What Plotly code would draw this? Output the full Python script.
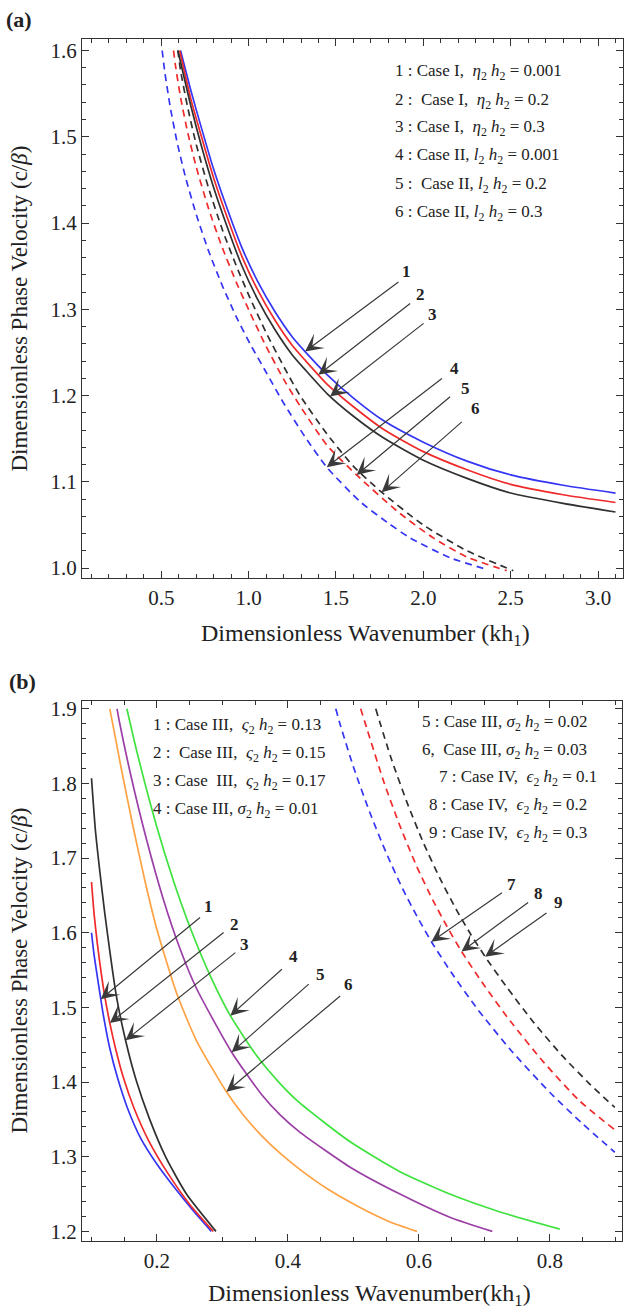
import plotly.graph_objects as go

SERIF = "Liberation Serif, Times New Roman, serif"
W, H = 627, 1311

# ---------------- panel (a): Case I (solid) and Case II (dashed) ----------------
ka_1 = [0.610, 0.67, 0.73, 0.80, 0.88, 0.96, 1.05, 1.15, 1.25, 1.323, 1.45, 1.6, 1.771, 2.0, 2.25, 2.5, 2.8, 3.1]
ca_1 = [1.600, 1.553, 1.510, 1.462, 1.415, 1.372, 1.333, 1.2975, 1.268, 1.251, 1.224, 1.197, 1.171, 1.146, 1.124, 1.108, 1.096, 1.087]

ka_2 = [0.605, 0.67, 0.73, 0.80, 0.88, 0.96, 1.05, 1.15, 1.25, 1.323, 1.45, 1.6, 1.771, 2.0, 2.25, 2.5, 2.8, 3.1]
ca_2 = [1.600, 1.543, 1.500, 1.452, 1.405, 1.362, 1.323, 1.2875, 1.258, 1.241, 1.213, 1.187, 1.161, 1.135, 1.114, 1.097, 1.085, 1.076]

ka_3 = [0.595, 0.67, 0.73, 0.80, 0.88, 0.96, 1.05, 1.15, 1.25, 1.323, 1.45, 1.6, 1.771, 2.0, 2.25, 2.5, 2.8, 3.1]
ca_3 = [1.600, 1.535, 1.489, 1.441, 1.394, 1.351, 1.312, 1.2765, 1.247, 1.230, 1.202, 1.176, 1.151, 1.125, 1.104, 1.087, 1.075, 1.065]

ka_4 = [0.505, 0.52, 0.55, 0.59, 0.64, 0.70, 0.77, 0.85, 0.93, 1.008, 1.10, 1.198, 1.32, 1.447, 1.638, 1.80, 1.924, 2.153, 2.372]
ca_4 = [1.600, 1.575, 1.536, 1.494, 1.452, 1.410, 1.368, 1.327, 1.291, 1.260, 1.227, 1.192, 1.153, 1.117, 1.077, 1.052, 1.035, 1.012, 0.998]

ka_5 = [0.570, 0.58, 0.61, 0.65, 0.70, 0.77, 0.85, 0.93, 1.008, 1.10, 1.20, 1.294, 1.45, 1.618, 1.85, 2.057, 2.248, 2.477]
ca_5 = [1.600, 1.584, 1.546, 1.506, 1.465, 1.417, 1.371, 1.331, 1.296, 1.257, 1.219, 1.188, 1.142, 1.108, 1.066, 1.035, 1.013, 0.997]

ka_6 = [0.595, 0.61, 0.65, 0.70, 0.77, 0.85, 0.93, 1.008, 1.10, 1.20, 1.294, 1.45, 1.60, 1.761, 2.0, 2.25, 2.515]
ca_6 = [1.600, 1.577, 1.535, 1.491, 1.441, 1.392, 1.350, 1.313, 1.273, 1.234, 1.200, 1.155, 1.118, 1.088, 1.050, 1.020, 0.997]

# ---------------- panel (b): Case III (solid) and Case IV (dashed) ----------------
kb_1 = [0.100, 0.104, 0.110, 0.118, 0.128, 0.140, 0.155, 0.175, 0.200, 0.230, 0.255, 0.283]
cb_1 = [1.600, 1.570, 1.535, 1.490, 1.445, 1.405, 1.365, 1.325, 1.290, 1.255, 1.228, 1.200]

kb_2 = [0.100, 0.104, 0.109, 0.115, 0.121, 0.128, 0.137, 0.149, 0.165, 0.187, 0.215, 0.250, 0.286]
cb_2 = [1.668, 1.625, 1.585, 1.545, 1.511, 1.479, 1.444, 1.405, 1.365, 1.322, 1.280, 1.236, 1.200]

kb_3 = [0.100, 0.106, 0.113, 0.120, 0.128, 0.138, 0.152, 0.168, 0.188, 0.213, 0.245, 0.290]
cb_3 = [1.807, 1.737, 1.680, 1.628, 1.575, 1.515, 1.456, 1.403, 1.352, 1.300, 1.250, 1.200]

kb_4 = [0.154, 0.170, 0.200, 0.225, 0.251, 0.281, 0.312, 0.350, 0.388, 0.418, 0.495, 0.571, 0.647, 0.724, 0.815]
cb_4 = [1.900, 1.840, 1.741, 1.670, 1.606, 1.543, 1.489, 1.438, 1.398, 1.372, 1.320, 1.280, 1.250, 1.226, 1.203]

kb_5 = [0.139, 0.143, 0.160, 0.184, 0.210, 0.235, 0.260, 0.314, 0.360, 0.388, 0.418, 0.495, 0.571, 0.647, 0.712]
cb_5 = [1.900, 1.881, 1.811, 1.725, 1.644, 1.579, 1.526, 1.440, 1.383, 1.356, 1.333, 1.286, 1.250, 1.219, 1.200]

kb_6 = [0.128, 0.145, 0.164, 0.182, 0.200, 0.230, 0.260, 0.306, 0.330, 0.360, 0.390, 0.418, 0.460, 0.510, 0.555, 0.597]
cb_6 = [1.900, 1.822, 1.740, 1.668, 1.604, 1.519, 1.456, 1.387, 1.358, 1.328, 1.303, 1.283, 1.257, 1.232, 1.213, 1.200]

kb_7 = [0.473, 0.479, 0.500, 0.525, 0.550, 0.575, 0.597, 0.619, 0.650, 0.690, 0.740, 0.800, 0.850, 0.899]
cb_7 = [1.900, 1.881, 1.822, 1.761, 1.707, 1.659, 1.622, 1.588, 1.546, 1.497, 1.443, 1.386, 1.344, 1.306]

kb_8 = [0.511, 0.521, 0.546, 0.571, 0.596, 0.621, 0.643, 0.665, 0.700, 0.740, 0.790, 0.845, 0.899]
cb_8 = [1.900, 1.872, 1.803, 1.743, 1.690, 1.644, 1.608, 1.575, 1.529, 1.481, 1.427, 1.375, 1.336]

kb_9 = [0.534, 0.557, 0.582, 0.607, 0.632, 0.657, 0.679, 0.701, 0.735, 0.775, 0.820, 0.860, 0.899]
cb_9 = [1.900, 1.835, 1.774, 1.720, 1.673, 1.631, 1.598, 1.568, 1.526, 1.480, 1.434, 1.398, 1.366]

# legend entries
legend_a = [
    "1 : Case I,  <i>η</i><sub>2</sub> <i>h</i><sub>2</sub> = 0.001",
    "2 :  Case I,  <i>η</i><sub>2</sub> <i>h</i><sub>2</sub> = 0.2",
    "3 : Case I,  <i>η</i><sub>2</sub> <i>h</i><sub>2</sub> = 0.3",
    "4 : Case II, <i>l</i><sub>2</sub> <i>h</i><sub>2</sub> = 0.001",
    "5 :  Case II, <i>l</i><sub>2</sub> <i>h</i><sub>2</sub> = 0.2",
    "6 : Case II, <i>l</i><sub>2</sub> <i>h</i><sub>2</sub> = 0.3",
]
legend_b_left = [
    "1 : Case III,  <i>ς</i><sub>2</sub> <i>h</i><sub>2</sub> = 0.13",
    "2 :  Case III,  <i>ς</i><sub>2</sub> <i>h</i><sub>2</sub> = 0.15",
    "3 : Case  III,  <i>ς</i><sub>2</sub> <i>h</i><sub>2</sub> = 0.17",
    "4 : Case III, <i>σ</i><sub>2</sub> <i>h</i><sub>2</sub> = 0.01",
]
legend_b_right = [
    "5 : Case III, <i>σ</i><sub>2</sub> <i>h</i><sub>2</sub> = 0.02",
    "6,  Case III, <i>σ</i><sub>2</sub> <i>h</i><sub>2</sub> = 0.03",
    "7 : Case IV,  <i>ϵ</i><sub>2</sub> <i>h</i><sub>2</sub> = 0.1",
    "8 : Case IV,  <i>ϵ</i><sub>2</sub> <i>h</i><sub>2</sub> = 0.2",
    "9 : Case IV,  <i>ϵ</i><sub>2</sub> <i>h</i><sub>2</sub> = 0.3",
]

BLUE, RED, BLACK = "#3535f4", "#f02a2a", "#303030"
ORANGE, PURPLE, GREEN = "#ffa244", "#9b3fa6", "#3fe23f"

fig = go.Figure()

def curve(x, y, color, dash, xa, ya):
    fig.add_trace(go.Scatter(
        x=x, y=y, mode="lines", xaxis=xa, yaxis=ya, showlegend=False,
        line=dict(color=color, width=1.7, dash=dash, shape="spline", smoothing=0.6),
        hoverinfo="skip"))

solid, dashed = "solid", "7px,5px"
curve(ka_1, ca_1, BLUE, solid, "x", "y")
curve(ka_2, ca_2, RED, solid, "x", "y")
curve(ka_3, ca_3, BLACK, solid, "x", "y")
curve(ka_4, ca_4, BLUE, dashed, "x", "y")
curve(ka_5, ca_5, RED, dashed, "x", "y")
curve(ka_6, ca_6, BLACK, dashed, "x", "y")

curve(kb_1, cb_1, BLUE, solid, "x2", "y2")
curve(kb_2, cb_2, RED, solid, "x2", "y2")
curve(kb_3, cb_3, BLACK, solid, "x2", "y2")
curve(kb_4, cb_4, GREEN, solid, "x2", "y2")
curve(kb_5, cb_5, PURPLE, solid, "x2", "y2")
curve(kb_6, cb_6, ORANGE, solid, "x2", "y2")
curve(kb_7, cb_7, BLUE, dashed, "x2", "y2")
curve(kb_8, cb_8, RED, dashed, "x2", "y2")
curve(kb_9, cb_9, BLACK, dashed, "x2", "y2")

def px(x):
    return x / W

def py(y):
    return 1 - y / H

def axis(dtick, minor_dtick, **kw):
    return dict(
        showline=True, linecolor="#333333", linewidth=1.3, mirror="ticks",
        ticks="inside", ticklen=7, tickwidth=1.2, tickcolor="#333333",
        showgrid=False, zeroline=False, tickformat=".1f", dtick=dtick, tick0=0,
        tickfont=dict(family=SERIF, size=21, color="#222222"),
        minor=dict(ticks="inside", ticklen=4, tickwidth=1, tickcolor="#333333", dtick=minor_dtick),
        **kw)

fig.update_layout(
    width=W, height=H, margin=dict(l=0, r=0, t=0, b=0),
    paper_bgcolor="white", plot_bgcolor="white", showlegend=False,
    xaxis=axis(0.5, 0.1, domain=[px(82), px(623)], range=[0.046, 3.143], anchor="y"),
    yaxis=axis(0.1, 0.02, domain=[py(577), py(35)], range=[0.9881, 1.6135], anchor="x"),
    xaxis2=axis(0.2, 0.05, domain=[px(82), px(622)], range=[0.0855, 0.91], anchor="y2"),
    yaxis2=axis(0.1, 0.02, domain=[py(1243), py(700)], range=[1.1867, 1.9107], anchor="x2"),
)

TXT = "#222222"

def text(x, y, s, size, anchor="center", angle=0, bold=False):
    fig.add_annotation(x=x, y=y, xref="paper", yref="paper", text=f"<b>{s}</b>" if bold else s,
                       showarrow=False, xanchor=anchor, yanchor="middle", textangle=angle,
                       font=dict(family=SERIF, size=size, color=TXT))

# panel tags and axis titles
text(px(4), py(16), "(a)", 22, anchor="left", bold=True)
text(px(7), py(681), "(b)", 22, anchor="left", bold=True)
text(px(20), py(306), "Dimensionless Phase Velocity (c/<i>β</i>)", 23, angle=-90)
text(px(20), py(971), "Dimensionless Phase Velocity (c/<i>β</i>)", 23, angle=-90)
text(px(365), py(634), "Dimensionless Wavenumber (kh<sub>1</sub>)", 24)
text(px(369), py(1297), "Dimensionless Wavenumber(kh<sub>1</sub>)", 24)

# legends
for i, s in enumerate(legend_a):
    text(px(393), py([68, 97, 125, 153, 182, 210][i]), s, 17, anchor="left")
for i, s in enumerate(legend_b_left):
    text(px(151), py([725, 753, 782, 810][i]), s, 17, anchor="left")
for i, s in enumerate(legend_b_right):
    text(px([420, 420, 437, 427, 427][i]), py([722, 750, 778, 806, 834][i]), s, 17, anchor="left")

# numbered arrows: (label, tail x, tail y, tip x, tip y, label x, label y)
arrows_a = [
    ("1", 1.866, 1.333, 1.323, 1.251, 1.905, 1.344),
    ("2", 1.933, 1.308, 1.399, 1.224, 1.981, 1.317),
    ("3", 2.010, 1.285, 1.466, 1.199, 2.053, 1.294),
    ("4", 2.115, 1.221, 1.447, 1.117, 2.176, 1.231),
    ("5", 2.162, 1.200, 1.618, 1.108, 2.239, 1.208),
    ("6", 2.229, 1.171, 1.761, 1.088, 2.296, 1.185),
]
arrows_b = [
    ("1", 0.268, 1.622, 0.114, 1.511, 0.278, 1.635),
    ("2", 0.304, 1.602, 0.128, 1.479, 0.319, 1.611),
    ("3", 0.322, 1.575, 0.152, 1.456, 0.334, 1.584),
    ("4", 0.393, 1.553, 0.312, 1.489, 0.408, 1.568),
    ("5", 0.434, 1.533, 0.314, 1.440, 0.449, 1.544),
    ("6", 0.482, 1.517, 0.306, 1.387, 0.492, 1.531),
    ("7", 0.729, 1.655, 0.619, 1.588, 0.741, 1.664),
    ("8", 0.769, 1.642, 0.665, 1.575, 0.783, 1.653),
    ("9", 0.797, 1.628, 0.701, 1.568, 0.813, 1.640),
]

def arrows(items, xr, yr):
    for lbl, tx, ty, hx, hy, lx, ly in items:
        fig.add_annotation(x=hx, y=hy, ax=tx, ay=ty, xref=xr, yref=yr, axref=xr, ayref=yr,
                           text="", showarrow=True, arrowhead=3, arrowsize=2.5,
                           arrowwidth=1.2, arrowcolor="#3a3a3a")
        fig.add_annotation(x=lx, y=ly, xref=xr, yref=yr, text=f"<b>{lbl}</b>", showarrow=False,
                           font=dict(family=SERIF, size=17, color=TXT))

arrows(arrows_a, "x", "y")
arrows(arrows_b, "x2", "y2")

fig.write_html("out.html")
